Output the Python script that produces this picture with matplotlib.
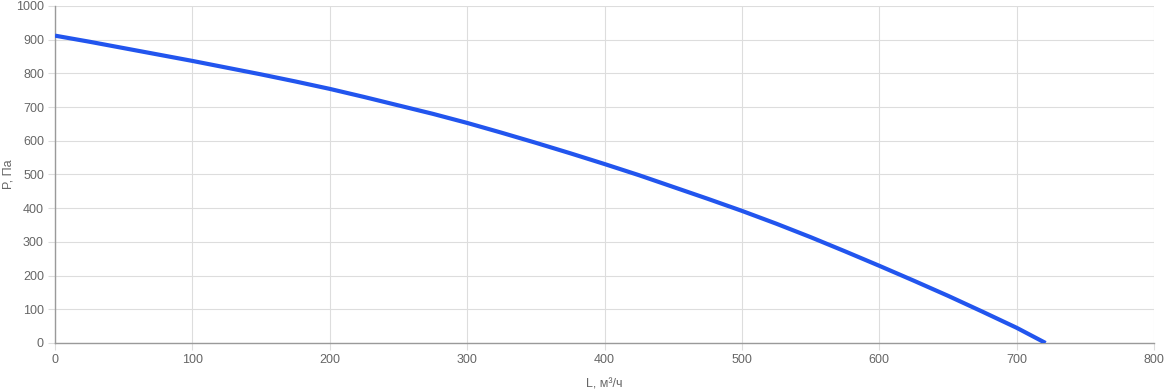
import matplotlib
matplotlib.use('Agg')
import matplotlib.pyplot as plt

plt.rcParams['font.family'] = ['Liberation Sans', 'DejaVu Sans']

# Характеристика вентилятора: расход L (м³/ч) и давление P (Па)
flow = [0, 25, 50, 75, 100, 125, 150, 175, 200, 225, 250, 275, 300, 325, 350,
        375, 400, 425, 450, 475, 500, 525, 550, 575, 600, 625, 650, 675, 700, 721]
pressure = [912, 894, 875, 856, 837, 817, 797, 776, 754, 730, 705, 680, 653, 624, 594,
            563, 531, 498, 463, 428, 392, 354, 314, 272, 229, 185, 140, 93, 45, 0]

x_ticks = list(range(0, 801, 100))
y_ticks = list(range(0, 1001, 100))

fig = plt.figure(figsize=(11.68, 3.89), dpi=100)
ax = fig.add_axes([0.0471, 0.1183, 0.9410, 0.8663])

ax.plot(flow, pressure, color='#2255ee', lw=3.0, solid_capstyle='butt',
        solid_joinstyle='round', zorder=3)

ax.set_xlim(0, 800)
ax.set_ylim(0, 1000)
ax.set_xticks(x_ticks)
ax.set_yticks(y_ticks)
ax.grid(True, color='#dddddd', lw=0.8)

for side in ('top', 'right'):
    ax.spines[side].set_visible(False)
for side in ('left', 'bottom'):
    ax.spines[side].set_color('#9a9a9a')
    ax.spines[side].set_linewidth(1.0)

ax.tick_params(axis='both', labelcolor='#666666', labelsize=9, length=5,
               width=0.8, color='#dddddd', pad=3)

ax.set_xlabel('L, м³/ч', fontsize=9, color='#666666', labelpad=9)
ax.set_ylabel('P, Па', fontsize=9, color='#666666')
ax.yaxis.set_label_coords(-0.037, 0.5)

fig.savefig('out.png', dpi=100)
